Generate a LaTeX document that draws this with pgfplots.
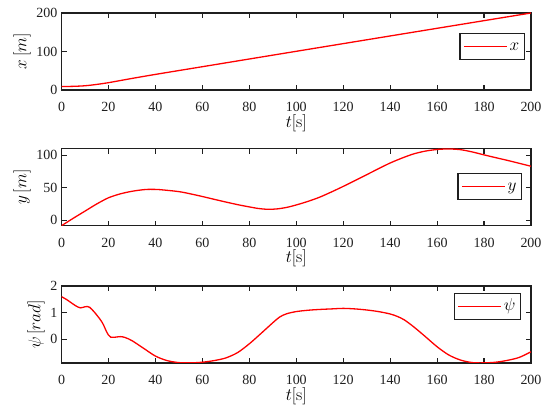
\documentclass[border=0pt]{standalone}
\usepackage[no-math]{fontspec}
\setmainfont{Liberation Serif}
\usepackage{pgfplots}
\pgfplotsset{compat=1.18}
\definecolor{axgray}{gray}{0.12}
\pgfplotsset{
  panel/.style={
    scale only axis, width=469.5pt, height=77pt, anchor=south west,
    xmin=0, xmax=200, xtick={0,20,...,200},
    /pgf/number format/assume math mode=true,
    tick label style={font=\fontsize{14}{16}\selectfont, text=axgray},
    axis line style={line width=1.1pt, draw=axgray},
    major tick style={line width=1.1pt, draw=axgray},
    major tick length=5pt, tick align=inside,
    xticklabel style={yshift=-9pt},
    yticklabel style={xshift=-0.5pt},
    label style={font=\fontsize{17.5}{20}\selectfont},
    xlabel style={yshift=4.5pt},
    ylabel style={yshift=-1pt},
    xlabel={$t[\mathrm{s}]$},
    legend cell align=left,
    legend style={draw=axgray, line width=1.2pt, inner xsep=3pt, inner ysep=4pt,
      font=\fontsize{16.5}{20}\selectfont, anchor=east,
      nodes={text height=10pt, text depth=3pt, inner xsep=2pt, inner ysep=2.5pt}},
    legend image code/.code={\draw[red, line width=1.6pt] (0pt,0pt) -- (43pt,0pt);},
  },
  trace/.style={red, line width=1.3pt, smooth, tension=0.5},
}
\begin{document}
\begin{tikzpicture}[x=1pt,y=1pt]
\path[use as bounding box] (0,0) rectangle (550,418);
% Panel 1
\begin{axis}[panel, at={(61.5pt,328pt)}, ymin=0, ymax=200, ytick={0,100,200},
  ylabel={$x\,[m]$}, legend style={at={(0.987,0.5629)}}]
\addplot[trace] coordinates {
(0,9) (5,9.5) (10,11) (15,14.5) (20,19) (25,24.5) (30,30) (40,40.5) (60,60.5) (100,100.5) (150,150.3) (200,200)};
\addlegendentry{$x$}
\end{axis}
% Panel 2
\begin{axis}[panel, at={(61.5pt,192.3pt)}, ymin=-8.4, ymax=110, ytick={0,50,100},
  ylabel={$y\,[m]$}, legend style={at={(0.981,0.507)}}]
\addplot[trace] coordinates {
(0,-8.4) (5,3) (10,14) (15,25) (20,34.5) (25,40.5) (30,44.5) (35,47) (38,47.5) (42,47)
(50,44) (55,40.5) (60,36.5) (65,32.2) (70,28) (75,24) (80,20.5) (84,18) (88,16.8) (92,17.5) (96,19.8) (100,23.5)
(105,29) (110,35.5) (115,43.5) (120,52) (125,61) (130,70) (135,79.2) (140,88) (145,95.5) (150,102)
(155,106.3) (160,108.8) (165,109.6) (170,108.5) (175,105) (180,100.5) (185,96.2) (190,92) (195,87.5) (200,83)};
\addlegendentry{$y$}
\end{axis}
% Panel 3
\begin{axis}[panel, at={(61.5pt,55pt)}, ymin=-0.89, ymax=2, ytick={0,1,2},
  ylabel={$\psi\,[rad]$}, legend style={at={(0.979,0.7317)}}]
\addplot[trace] coordinates {
(0,1.60) (2,1.50) (4,1.38) (6,1.26) (8,1.18) (10,1.22) (11,1.23) (12,1.20) (14,1.02)
(16,0.80) (17,0.68) (18,0.52) (19,0.32) (20,0.16) (21,0.08) (23,0.08) (25,0.10) (27,0.07)
(30,-0.05) (35,-0.34) (40,-0.63) (45,-0.80) (50,-0.875) (55,-0.885) (60,-0.86) (65,-0.80)
(70,-0.70) (75,-0.50) (80,-0.17) (85,0.22) (90,0.62) (93,0.84) (96,0.96) (100,1.04) (105,1.09) (110,1.12)
(115,1.14) (120,1.16) (125,1.14) (130,1.10) (135,1.04) (140,0.95) (143,0.86) (146,0.73) (150,0.47) (155,0.10) (160,-0.28) (165,-0.59)
(170,-0.78) (175,-0.875) (180,-0.885) (185,-0.86) (190,-0.79) (195,-0.68) (200,-0.47)};
\addlegendentry{$\psi$}
\end{axis}
\end{tikzpicture}
\end{document}
